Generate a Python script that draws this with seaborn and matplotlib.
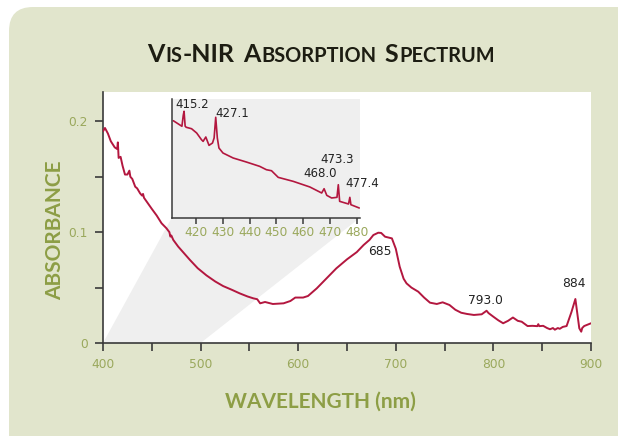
import numpy as np
import matplotlib
matplotlib.use("Agg")
import matplotlib.pyplot as plt
import matplotlib.patches as mpatches
from matplotlib.offsetbox import TextArea, HPacker, AnnotationBbox
import seaborn as sns

# main spectrum
wavelength = [400, 402, 405, 408, 412, 414.5, 415.2, 416, 418, 420, 422.5, 425, 427, 428,
              430, 433, 435, 438, 440, 441, 442, 446, 450, 455, 460, 465, 468, 469, 470,
              472, 477, 480, 489, 497, 506, 515, 523, 532, 540, 548, 554, 558, 561, 566,
              574, 585, 592, 597, 605, 610, 619, 629, 639, 650, 660, 667, 673, 677, 682,
              685, 689, 696, 700, 704, 708, 711, 716, 723, 729, 735, 742, 748, 755, 761,
              767, 773, 780, 788, 793, 795, 800, 805, 810, 815, 820, 825, 829, 835, 840,
              845, 846, 847, 851, 855, 858, 861, 863, 866, 868, 871, 875, 880, 884, 888,
              890, 891, 893, 900]
absorbance = [0.191, 0.194, 0.189, 0.182, 0.1765, 0.175, 0.181, 0.167, 0.168, 0.160, 0.152,
              0.152, 0.1555, 0.150, 0.148, 0.141, 0.1395, 0.135, 0.133, 0.1345, 0.131, 0.126,
              0.121, 0.115, 0.108, 0.1035, 0.100, 0.096, 0.097, 0.093, 0.087, 0.084, 0.075,
              0.0675, 0.061, 0.0555, 0.0514, 0.048, 0.0448, 0.042, 0.0403, 0.0395, 0.0358,
              0.037, 0.0352, 0.0358, 0.0379, 0.041, 0.041, 0.0424, 0.0493, 0.0583, 0.0673,
              0.0755, 0.082, 0.0884, 0.093, 0.0974, 0.0995, 0.0993, 0.0959, 0.0944, 0.085,
              0.0688, 0.058, 0.0538, 0.050, 0.0463, 0.041, 0.0364, 0.0352, 0.0367, 0.0343,
              0.030, 0.0273, 0.0262, 0.0253, 0.0259, 0.0291, 0.027, 0.0237, 0.0205, 0.0178,
              0.0200, 0.0230, 0.020, 0.0192, 0.0153, 0.0155, 0.0152, 0.017, 0.0152, 0.0155,
              0.0135, 0.0124, 0.0135, 0.012, 0.0135, 0.0128, 0.0145, 0.0153, 0.028, 0.0397,
              0.0133, 0.0102, 0.0135, 0.0153, 0.0178]

# zoomed 411-481 nm detail
inset_wavelength = [411.6, 414.8, 415.3, 415.6, 416.0, 416.4, 418.4, 420.3, 422.1, 422.7,
                    423.7, 424.9, 426.2, 426.8, 427.4, 428.0, 428.6, 430.1, 433.9, 438.8,
                    443.8, 446.3, 448.2, 450.7, 456.3, 462.5, 466.9, 467.8, 468.8, 470.6,
                    472.6, 473.1, 473.6, 476.9, 477.4, 477.8, 480.9]
inset_absorbance = [0.1790, 0.1729, 0.1850, 0.1894, 0.1730, 0.1718, 0.1702, 0.1655, 0.1581,
                    0.1563, 0.1611, 0.1519, 0.1545, 0.1600, 0.1828, 0.1600, 0.1490, 0.1435,
                    0.1380, 0.1336, 0.1288, 0.1251, 0.1240, 0.1167, 0.1123, 0.1061, 0.0995,
                    0.1042, 0.0969, 0.0940, 0.0947, 0.1086, 0.0903, 0.0874, 0.0947, 0.0866,
                    0.0830]

peak_labels = ["685", "793.0", "884"]
peak_pos = [(683.7, 0.0824), (792.3, 0.0379), (882.7, 0.0539)]
inset_labels = ["415.2", "427.1", "473.3", "468.0", "477.4"]
inset_pos = [(412.2, 0.1974), (427.1, 0.1875), (466.3, 0.1361), (460.1, 0.1204), (475.9, 0.1097)]

panel = "#e1e5cc"
olive = "#8d9e45"
tick_olive = "#9aa85c"
line_col = "#b3173f"
shade = "#efefef"
spine_col = "#3a3a3a"

sns.set_style("ticks")
plt.rcParams["font.family"] = ["DejaVu Sans"]

fig = plt.figure(figsize=(6.18, 4.36), dpi=100)
fig.patch.set_facecolor("white")
bg = mpatches.FancyBboxPatch((9, -40), 700, 469, boxstyle="round,pad=0,rounding_size=24",
                             transform=None, facecolor=panel, edgecolor="none", zorder=-10)
fig.patches.append(bg)

ax = fig.add_axes([0.1667, 0.2133, 0.7896, 0.5768])
ax.set_facecolor("white")
sns.lineplot(x=wavelength, y=absorbance, ax=ax, color=line_col, linewidth=1.4, zorder=3)
ax.set_xlim(400, 900)
ax.set_ylim(0, 0.2269)
ax.set_xticks(np.arange(400, 901, 50))
ax.set_xticklabels([str(v) if v % 100 == 0 else "" for v in range(400, 901, 50)])
ax.set_yticks([0, 0.05, 0.1, 0.15, 0.2])
ax.set_yticklabels(["0", "", "0.1", "", "0.2"])
ax.tick_params(direction="out", length=6, width=1.2, color=spine_col,
               labelcolor=tick_olive, labelsize=8.8, pad=5)
for s in ["top", "right"]:
    ax.spines[s].set_visible(False)
for s in ["left", "bottom"]:
    ax.spines[s].set_color(spine_col)
    ax.spines[s].set_linewidth(1.2)

for txt, (x, y) in zip(peak_labels, peak_pos):
    ax.text(x, y, txt, ha="center", va="center", fontsize=8.8, color="#222222")

ax.set_xlabel("WAVELENGTH (nm)", fontsize=15, fontweight="bold", color=olive,
              family="Lato")
ax.xaxis.set_label_coords(0.446, -0.2334)
ax.xaxis.label.set_va("center")
ax.set_ylabel("ABSORBANCE", fontsize=15, fontweight="bold", color=olive, family="Lato")
ax.yaxis.set_label_coords(-0.0984, 0.449)
ax.yaxis.label.set_va("center")

# inset
ins = [0.1408, 0.4982, 0.3859, 0.472]
axins = ax.inset_axes(ins)
axins.set_facecolor(shade)
sns.lineplot(x=inset_wavelength, y=inset_absorbance, ax=axins, color=line_col, linewidth=1.2)
axins.set_xlim(411, 481.2)
axins.set_ylim(0.0723, 0.2029)
axins.set_xticks(np.arange(420, 481, 10))
axins.set_yticks([])
axins.set_xlabel("")
axins.tick_params(direction="out", length=4, width=1.1, color=spine_col,
                  labelcolor=tick_olive, labelsize=8.8, pad=2)
for s in ["top", "right"]:
    axins.spines[s].set_visible(False)
for s in ["left", "bottom"]:
    axins.spines[s].set_color(spine_col)
    axins.spines[s].set_linewidth(1.1)
for txt, (x, y) in zip(inset_labels, inset_pos):
    axins.text(x, y, txt, ha="left", va="center", fontsize=8.5, color="#222222")

# wedge linking the zoomed range to the inset
x0, x1 = (400 - 400) / 500, (500 - 400) / 500
wedge = mpatches.Polygon([(x0, 0), (x1, 0), (ins[0] + ins[2], ins[1]), (ins[0], ins[1])],
                         closed=True, transform=ax.transAxes, facecolor=shade,
                         edgecolor="none", zorder=1)
ax.add_patch(wedge)

# small-caps title
big = dict(family="Lato", fontweight="bold", fontsize=18, color="#1d1d12")
small = dict(family="Lato", fontweight="bold", fontsize=14.4, color="#1d1d12")
words = [[("V", big), ("IS", small), ("-NIR", big)],
         [("A", big), ("BSORPTION", small)],
         [("S", big), ("PECTRUM", small)]]
boxes = [HPacker(children=[TextArea(t, textprops=p) for t, p in w], align="baseline",
                 pad=0, sep=0.5) for w in words]
title = HPacker(children=boxes, align="baseline", pad=0, sep=6)
ab = AnnotationBbox(title, (321 / 618, 1 - 55 / 436), xycoords="figure fraction",
                    box_alignment=(0.5, 0.5), frameon=False)
fig.add_artist(ab)

fig.savefig("out.png", dpi=100, facecolor=fig.get_facecolor())
